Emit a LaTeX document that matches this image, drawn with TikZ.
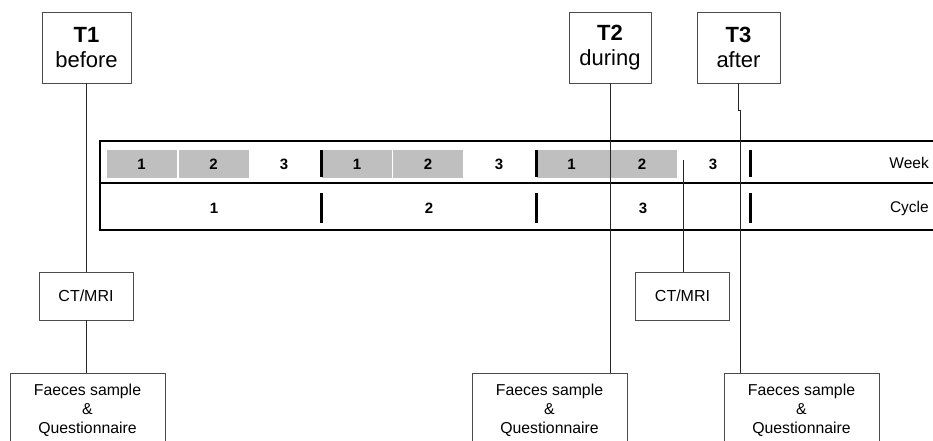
\documentclass[tikz,border=0pt]{standalone}
\usepackage{fontspec}
\setmainfont{Liberation Sans}
\begin{document}
\begin{tikzpicture}[x=1pt,y=-1pt,
  box/.style={draw=black!70, line width=0.9pt, fill=white, align=center, inner sep=0pt},
  tbox/.style={box, minimum height=71pt, font=\fontsize{22}{25}\selectfont},
  ctbox/.style={box, minimum width=94pt, minimum height=48pt, font=\fontsize{16}{19}\selectfont},
  fqbox/.style={box, minimum width=155pt, minimum height=74pt, anchor=north, font=\fontsize{15.8}{19}\selectfont},
  link/.style={draw=black!85, line width=0.9pt},
  frame/.style={line width=2.8pt},
  tick/.style={line width=3pt},
  wk/.style={minimum width=70pt, minimum height=28pt, inner sep=0pt, font=\fontsize{15}{15}\selectfont\bfseries},
  grey/.style={wk, fill=black!25},
  rowlabel/.style={anchor=east, inner sep=0pt, font=\fontsize{15.5}{15}\selectfont}
]
\useasboundingbox (0,0) rectangle (933,440);

% time points
\node[tbox, minimum width=89pt] (t1) at (86.5,47.5) {\textbf{T1}\\before};
\node[tbox, minimum width=82pt] (t2) at (610,47.5) {\textbf{T2}\\during};
\node[tbox, minimum width=83pt] (t3) at (738.5,47.5) {\textbf{T3}\\after};

% timeline frame: week row above, cycle row below
\draw[frame] (100,141) rectangle (950,230);
\draw[frame] (100,183) -- (950,183);

% weeks of cycle 1
\node[grey] (w11) at (141.5,164) {1};
\node[grey] (w12) at (213.5,164) {2};
\node[wk]   (w13) at (284,164) {3};
% weeks of cycle 2
\node[grey] (w21) at (357,164) {1};
\node[grey] (w22) at (428,164) {2};
\node[wk]   (w23) at (499,164) {3};
% weeks of cycle 3
\node[grey] (w31) at (571.5,164) {1};
\node[grey] (w32) at (642,164) {2};
\node[wk]   (w33) at (713,164) {3};

% cycle numbers
\node[wk] (c1) at (214,208) {1};
\node[wk] (c2) at (429,208) {2};
\node[wk] (c3) at (643,208) {3};

% cycle boundaries
\foreach \x in {321,536,750} {
  \draw[tick] (\x,150) -- (\x,177);
  \draw[tick] (\x,193) -- (\x,223);
}

\node[rowlabel] (week)  at (929,163) {Week};
\node[rowlabel] (cycle) at (929,208) {Cycle};

% measurements
\node[ctbox] (ct1) at (86,296) {CT/MRI};
\node[ctbox] (ct2) at (682.5,296) {CT/MRI};
\node[fqbox] (fq1) at (87.5,373) {Faeces sample\\\&\\Questionnaire};
\node[fqbox] (fq2) at (549.5,373) {Faeces sample\\\&\\Questionnaire};
\node[fqbox] (fq3) at (801.5,373) {Faeces sample\\\&\\Questionnaire};

% connectors
\coordinate (ct2top) at (683,160);
\coordinate (t3bend) at (740,110);
\draw[link] (t1.south) -- (t1.south |- ct1.north);
\draw[link] (ct1.south) -- (ct1.south |- fq1.north);
\draw[link] (t2.south) -- (t2.south |- fq2.north);
\draw[link] (t3.south) |- (t3bend) -- (t3bend |- fq3.north);
\draw[link] (ct2top) -- (ct2top |- ct2.north);
\end{tikzpicture}
\end{document}
